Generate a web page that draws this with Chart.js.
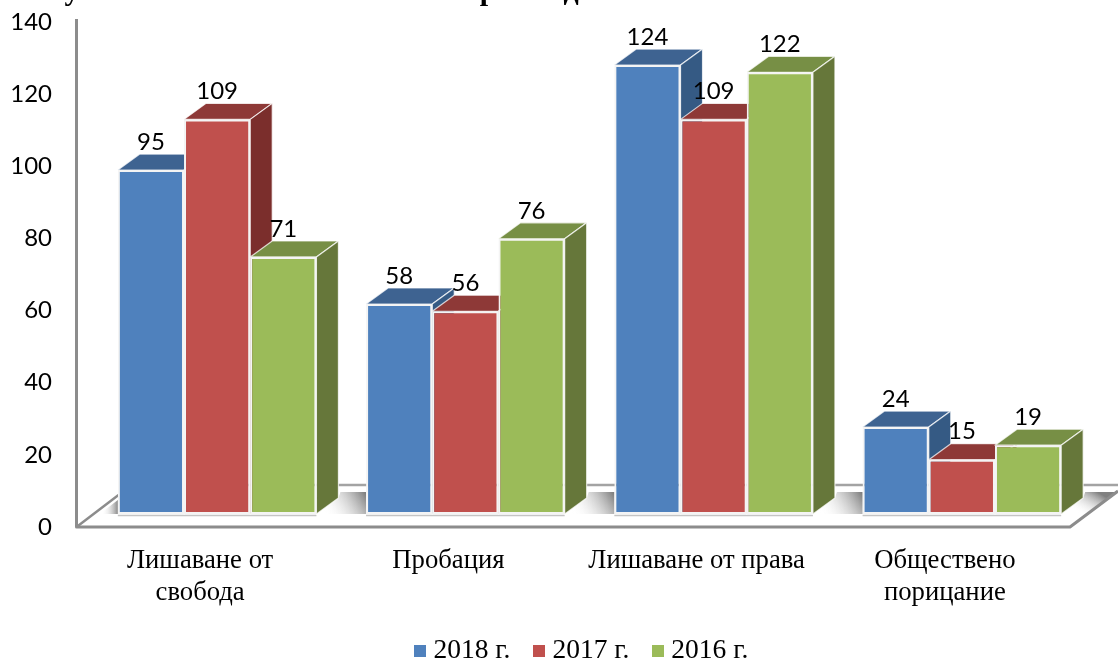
<!DOCTYPE html>
<html lang="bg">
<head>
<meta charset="utf-8">
<title>Chart</title>
<style>
html,body{margin:0;padding:0;background:#fff;width:1118px;height:660px;overflow:hidden}
#wrap{position:relative;width:1118px;height:660px}
</style>
<script src="https://cdn.jsdelivr.net/npm/chart.js@4/dist/chart.umd.min.js"></script>
</head>
<body>
<div id="wrap"><canvas id="c"></canvas></div>
<script>
const categories = [["Лишаване от","свобода"],["Пробация"],["Лишаване от права"],["Обществено","порицание"]];
const seriesNames = ["2018 г.","2017 г.","2016 г."];
const values2018 = [95,58,124,24];
const values2017 = [109,56,109,15];
const values2016 = [71,76,122,19];
const yTicks = [0,20,40,60,80,100,120,140];
const clippedTitleGlyphs = [["у",72],["р",488],["д",571]];

const front = ["#4F81BD","#C0504D","#9BBB59"];
const topFace = ["#3E6391","#8E3937","#778F45"];
const sideFace = ["#355A84","#7B2E2C","#66773A"];
const SERIF = '"Liberation Serif"';
const NUM = 'Lato';
const DX = 22, DY = 16;

function poly(ctx, pts, fill, stroke, lw){
  ctx.beginPath();
  pts.forEach((p,i)=> i?ctx.lineTo(p[0],p[1]):ctx.moveTo(p[0],p[1]));
  ctx.closePath();
  if(fill){ctx.fillStyle=fill;ctx.fill();}
  if(stroke){ctx.strokeStyle=stroke;ctx.lineWidth=lw||1;ctx.lineJoin='round';ctx.stroke();}
}
function line(ctx, pts, color, lw){
  ctx.beginPath();
  pts.forEach((p,i)=> i?ctx.lineTo(p[0],p[1]):ctx.moveTo(p[0],p[1]));
  ctx.strokeStyle=color;ctx.lineWidth=lw;ctx.lineJoin='round';ctx.lineCap='butt';ctx.stroke();
}
function gradPoly(ctx, pts, x0,y0,x1,y1, c0){
  const g=ctx.createLinearGradient(x0,y0,x1,y1);
  g.addColorStop(0,c0);g.addColorStop(1,'rgba(255,255,255,0)');
  poly(ctx,pts,g);
}

const scene3d = {
  id:'scene3d',
  afterLayout(chart){
    const lg=chart.legend;
    if(lg){ lg.left+=41; lg.right+=41; lg.top-=3; lg.bottom-=3; }
  },
  beforeDraw(chart){
    const ctx=chart.ctx;
    ctx.save();
    ctx.fillStyle='#000';
    ctx.font='bold 30px '+SERIF;
    ctx.textAlign='center';ctx.textBaseline='alphabetic';
    clippedTitleGlyphs.forEach(g=>ctx.fillText(g[0],g[1],0));
    ctx.restore();
  },
  beforeDatasetsDraw(chart){
    const ctx=chart.ctx, a=chart.chartArea;
    const axisX=a.left-16.5, floorY=a.bottom, backY=floorY-42, rightX=a.right-16;
    const metas=[0,1,2].map(i=>chart.getDatasetMeta(i));
    const base=metas[0].data[0].base;
    ctx.save();
    // back edge of the floor
    line(ctx,[[axisX+60,backY],[1118,backY]],'#A3A3A3',2.5);
    // floor shadows in the gaps between groups
    const groups=categories.map((_,k)=>{
      const l=metas[0].data[k], r=metas[2].data[k];
      return {L:l.x-l.width/2,R:r.x+r.width/2};
    });
    const sT=base-22, sD=base-16;
    gradPoly(ctx,[[groups[0].L-18,base],[groups[0].L,sD+2],[groups[0].L,base]],
      groups[0].L,base-6,groups[0].L-16,base-6,'#8a8a8a');
    for(let k=0;k<3;k++){
      const R=groups[k].R, N=groups[k+1].L;
      gradPoly(ctx,[[R,base],[R+DX,sD],[R+DX+2,sT],[N,sT],[N,base],[R+DX+6,base]],
        N-1,sT+1,R+10,base+3,'#808080');
    }
    const RR=groups[3].R;
    gradPoly(ctx,[[RR,base],[RR+DX,sD],[RR+DX+2,sT],[1118,sT],[1090,base-2],[1078,base]],
      RR+DX+16,sT+1,RR+DX+2,base+3,'#808080');
    // floor contact line beneath the bars
    groups.forEach(g=>line(ctx,[[g.L,base+1.5],[g.R,base+1.5]],'#C4C4C4',1.5));
    // wall axis + floor edges
    line(ctx,[[axisX,19],[axisX,floorY],[rightX,floorY],[1118,floorY-36]],'#8C8C8C',3);
    line(ctx,[[axisX,floorY],[axisX+42,floorY-32]],'#8C8C8C',2.5);
    // bars: top, side, front, left to right
    metas.forEach((m,i)=>{
      m.data.forEach(el=>{
        const L=el.x-el.width/2,R=el.x+el.width/2,T=el.y,B=el.base;
        poly(ctx,[[L,T],[L+DX,T-DY],[R+DX,T-DY],[R,T]],topFace[i],'rgba(255,255,255,.75)',1.2);
        poly(ctx,[[R,T],[R+DX,T-DY],[R+DX,B-DY],[R,B]],sideFace[i],'rgba(255,255,255,.75)',1.2);
        el.draw(ctx);
      });
    });
    ctx.restore();
  },
  beforeDatasetDraw(){ return false; },
  afterDatasetsDraw(chart){
    const ctx=chart.ctx;
    ctx.save();
    ctx.fillStyle='#000';
    ctx.font='24px '+NUM;
    ctx.textAlign='center';ctx.textBaseline='middle';
    chart.data.datasets.forEach((ds,i)=>{
      chart.getDatasetMeta(i).data.forEach((el,k)=>{
        ctx.fillText(String(ds.data[k]),el.x,el.y-28);
      });
    });
    ctx.restore();
  }
};

const swatches = front.map(c=>{
  const s=document.createElement('canvas');s.width=12;s.height=12;
  const x=s.getContext('2d');x.fillStyle=c;x.fillRect(0,0,12,12);return s;
});

function mk(name,data,i){
  return {label:name,data:data,backgroundColor:front[i],borderColor:'#F4F4F4',borderWidth:2,borderSkipped:false,
    yAxisID:'yBars',barPercentage:1,categoryPercentage:0.8};
}

new Chart(document.getElementById('c'),{
  type:'bar',
  data:{labels:categories,datasets:[mk(seriesNames[0],values2018,0),mk(seriesNames[1],values2017,1),mk(seriesNames[2],values2016,2)]},
  plugins:[scene3d],
  options:{
    responsive:true,maintainAspectRatio:false,animation:false,
    layout:{padding:{top:22,right:32,bottom:-17.75,left:0}},
    plugins:{
      tooltip:{enabled:false},
      title:{display:false},
      legend:{display:true,position:'bottom',
        labels:{
          usePointStyle:true,pointStyleWidth:0.01,boxHeight:12,padding:28.25,
          color:'#000',font:{family:SERIF,size:27.5},
          generateLabels(chart){
            return Chart.defaults.plugins.legend.labels.generateLabels(chart).map((it,i)=>({...it,pointStyle:swatches[i]}));
          }
        }
      }
    },
    scales:{
      x:{
        grid:{display:false,drawTicks:false},border:{display:false},
        afterFit(s){s.height=85;},
        ticks:{color:'#000',font:{family:SERIF,size:26.7,lineHeight:1.2},padding:18,labelOffset:-17,maxRotation:0,minRotation:0,autoSkip:false}
      },
      y:{
        min:0,max:140,
        grid:{display:false,drawTicks:false},border:{display:false},
        afterFit(s){s.width=93;s.paddingTop=0;s.paddingBottom=0;},
        afterBuildTicks(s){s.ticks=yTicks.map(v=>({value:v}));},
        ticks:{color:'#000',font:{family:NUM,size:24},padding:41}
      },
      yBars:{display:false,position:'left',min:-3.6,max:135.9}
    }
  }
});
</script>
</body>
</html>
